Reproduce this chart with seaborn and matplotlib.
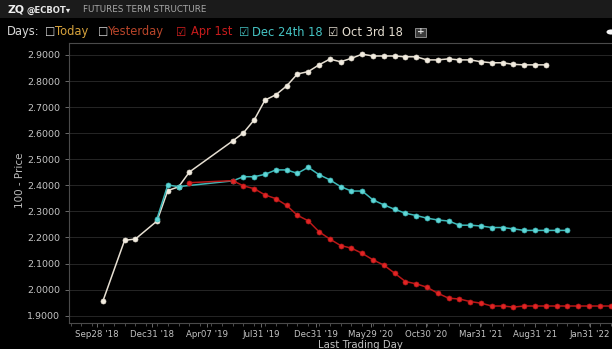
import numpy as np
import pandas as pd
import matplotlib
matplotlib.use("Agg")
import matplotlib.pyplot as plt
from matplotlib.patches import Rectangle, Circle
import seaborn as sns

# ZQ fed funds futures term structure (100 - price), x = months after Sep 2018 contract
oct3_months = [0, 2, 3, 5, 6, 7, 8, 12, 13, 14, 15, 16, 17, 18, 19, 20, 21, 22, 23,
               24, 25, 26, 27, 28, 29, 30, 31, 32, 33, 34, 35, 36, 37, 38, 39, 40, 41]
oct3_values = [1.957, 2.189, 2.194, 2.263, 2.380, 2.394, 2.451, 2.570, 2.601, 2.651,
               2.727, 2.747, 2.781, 2.827, 2.836, 2.862, 2.884, 2.874, 2.887, 2.903,
               2.896, 2.896, 2.896, 2.893, 2.893, 2.881, 2.881, 2.885, 2.881, 2.881,
               2.874, 2.870, 2.870, 2.864, 2.862, 2.862, 2.862]

dec24_months = [5, 6, 7, 12, 13, 14, 15, 16, 17, 18, 19, 20, 21, 22, 23, 24, 25, 26,
                27, 28, 29, 30, 31, 32, 33, 34, 35, 36, 37, 38, 39, 40, 41, 42, 43]
dec24_values = [2.272, 2.401, 2.395, 2.417, 2.433, 2.433, 2.442, 2.459, 2.459, 2.446,
                2.469, 2.441, 2.421, 2.395, 2.378, 2.378, 2.344, 2.325, 2.308, 2.293,
                2.284, 2.274, 2.267, 2.263, 2.247, 2.247, 2.244, 2.238, 2.238, 2.233,
                2.227, 2.227, 2.227, 2.227, 2.227]

apr1_months = [8, 12, 13, 14, 15, 16, 17, 18, 19, 20, 21, 22, 23, 24, 25, 26, 27, 28,
               29, 30, 31, 32, 33, 34, 35, 36, 37, 38, 39, 40, 41, 42, 43, 44, 45, 46,
               47, 48]
apr1_values = [2.410, 2.418, 2.398, 2.387, 2.363, 2.349, 2.323, 2.285, 2.264, 2.222,
               2.194, 2.169, 2.159, 2.139, 2.114, 2.094, 2.063, 2.031, 2.022, 2.009,
               1.986, 1.967, 1.964, 1.954, 1.948, 1.937, 1.937, 1.933, 1.937, 1.937,
               1.937, 1.937, 1.937, 1.937, 1.937, 1.937, 1.937, 1.937]

tick_labels = ["Sep28 '18", "Dec31 '18", "Apr07 '19", "Jul31 '19", "Dec31 '19",
               "May29 '20", "Oct30 '20", "Mar31 '21", "Aug31 '21", "Jan31 '22"]
y_ticks = [1.9, 2.0, 2.1, 2.2, 2.3, 2.4, 2.5, 2.6, 2.7, 2.8, 2.9]

series = [
    ("Oct 3rd 18", oct3_months, oct3_values, "#e6dfd2", "#f2ece0"),
    ("Dec 24th 18", dec24_months, dec24_values, "#3fb8b8", "#5fd6d6"),
    ("Apr 1st", apr1_months, apr1_values, "#b81818", "#e02424"),
]

W, H = 612, 349
fig = plt.figure(figsize=(W / 100, H / 100), dpi=100, facecolor="black")


def fx(x):
    return x / W


def fy(y):
    return 1 - y / H


# plot area: left spine at 68.5 px, top 42.7 px, bottom 322.7 px
px_per_month = 10.8
x0_px = 103.0
xmin = (68.5 - x0_px) / px_per_month
xmax = 48.0
ax_w = (xmax - xmin) * px_per_month
ax = fig.add_axes([fx(68.5), fy(322.7), ax_w / W, (322.7 - 42.7) / H])
ax.set_facecolor("black")

for name, xs, ys, lc, mc in series:
    df = pd.DataFrame({"month": xs, "rate": ys})
    sns.lineplot(data=df, x="month", y="rate", ax=ax, color=lc, linewidth=1.1,
                 marker="o", markersize=3.6, markerfacecolor=mc,
                 markeredgecolor=lc, markeredgewidth=0.5, zorder=3)

ax.set_xlim(xmin, xmax)
ax.set_ylim(1.873, 2.947)

ax.set_yticks(y_ticks)
ax.set_yticklabels([f"{v:.4f}" for v in y_ticks])
tick_pos = -0.55 + 5.07 * np.arange(len(tick_labels))
ax.set_xticks(tick_pos)
ax.set_xticklabels(tick_labels)
ax.set_xticks(np.arange(-3, 48, 1), minor=True)

ax.tick_params(axis="both", colors="#6a6a6a", labelcolor="#c4c4c4", labelsize=6.8,
               length=3, width=0.7, direction="out")
ax.tick_params(axis="x", which="major", length=3, pad=2, labelsize=6.2)
ax.tick_params(axis="x", which="minor", length=2, width=0.6, colors="#5a5a5a")
ax.tick_params(axis="y", pad=3)

ax.grid(axis="y", color="#262626", linewidth=0.7)
ax.grid(axis="x", visible=False)
ax.set_axisbelow(True)
for side in ("left", "bottom", "top"):
    ax.spines[side].set_color("#4a4a4a")
    ax.spines[side].set_linewidth(0.8)
ax.spines["right"].set_visible(False)

ax.set_xlabel("")
ax.set_ylabel("")
fig.text(fx(20), fy(180), "100 - Price", rotation=90, color="#bdbdbd",
         fontsize=7.5, ha="center", va="center")
fig.text(fx(360), fy(344.5), "Last Trading Day", color="#c4c4c4", fontsize=7.3,
         ha="center", va="center")

# header bar
fig.add_artist(Rectangle((0, fy(18)), 1, 18 / H, transform=fig.transFigure,
                         facecolor="#1b1b1b", edgecolor="none", zorder=0))
fig.text(fx(8), fy(9.5), "ZQ", color="#f0f0f0", fontsize=7.8, fontweight="bold",
         ha="left", va="center")
fig.text(fx(26.5), fy(10), "@ECBOT\u25BE", color="#e8e8e8", fontsize=6.1,
         fontweight="bold", ha="left", va="center")
fig.text(fx(83), fy(10), "FUTURES TERM STRUCTURE", color="#a8a8a8", fontsize=6.3,
         ha="left", va="center")

# day selector row
row_y = fy(32)
items = [
    (7, "Days:", "#d8d8d8"),
    (45, "\u2610", "#d8d8d8"),
    (55, "Today", "#d6a23c"),
    (98, "\u2610", "#d8d8d8"),
    (108, "Yesterday", "#b8452a"),
    (176, "\u2611", "#d42020"),
    (191, "Apr 1st", "#c81c1c"),
    (239, "\u2611", "#45c4c4"),
    (252, "Dec 24th 18", "#45c4c4"),
    (328, "\u2611", "#e4ddd0"),
    (342, "Oct 3rd 18", "#e4ddd0"),
]
for x, txt, col in items:
    fig.text(fx(x), row_y, txt, color=col, fontsize=8.3, ha="left", va="center")
fig.add_artist(Rectangle((fx(415), fy(36.5)), 11 / W, 9 / H, transform=fig.transFigure,
                         facecolor="#3a3a3a", edgecolor="#8a8a8a", linewidth=0.7))
fig.text(fx(420.5), fy(32), "+", color="#e0e0e0", fontsize=6.5, ha="center",
         va="center", fontweight="bold")

# window handle at the right edge
fig.add_artist(Circle((fx(611), fy(32)), 4.5 / W, transform=fig.transFigure,
                      facecolor="#f4f4f4", edgecolor="none"))

fig.savefig("out.png", dpi=100, facecolor="black")
